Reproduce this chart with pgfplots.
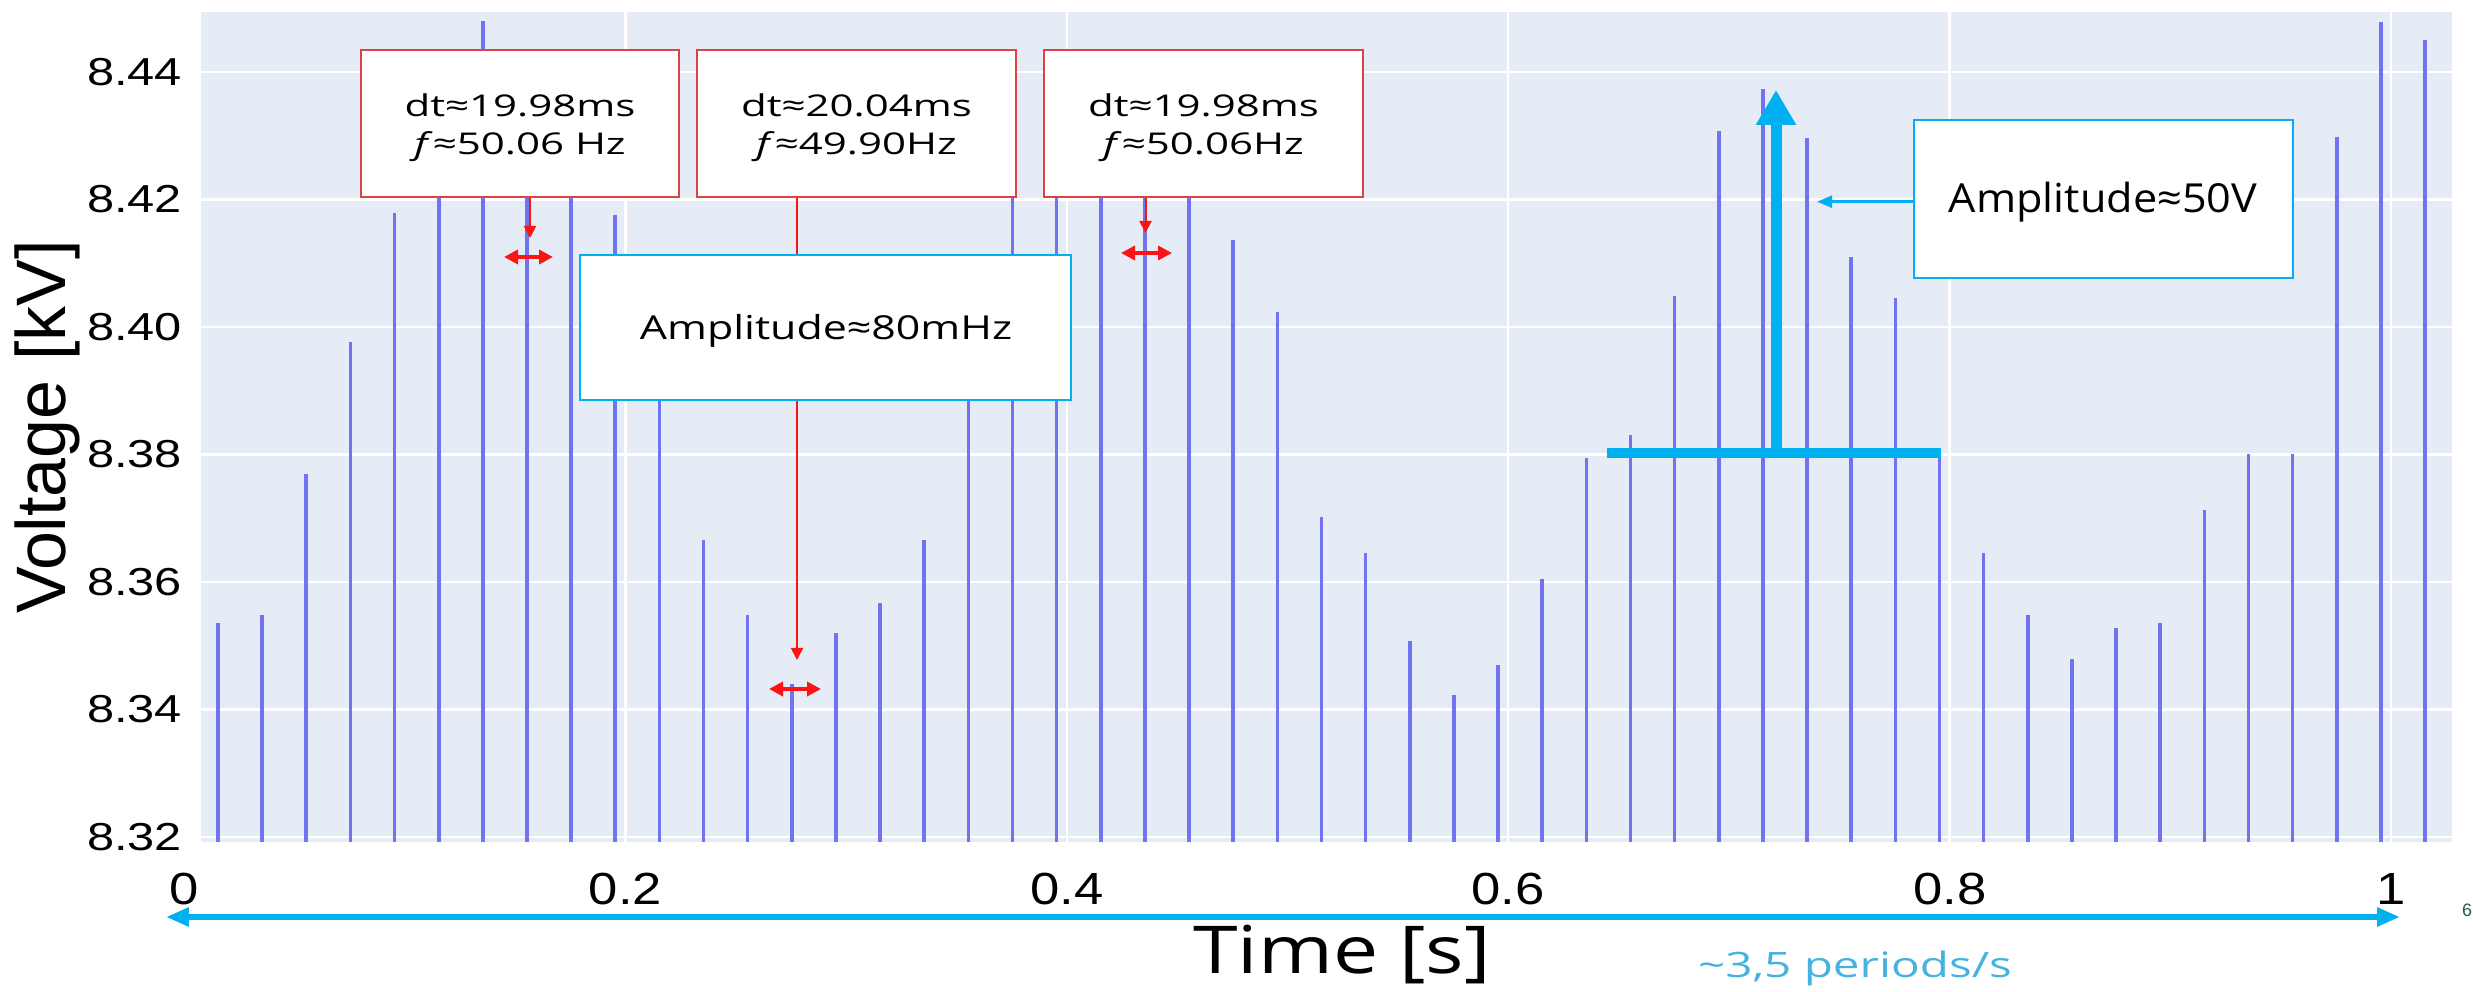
\documentclass[border=0pt]{standalone}
\usepackage{fontspec}
\setmainfont{Liberation Sans}
\newfontfamily\osans{Open Sans}
\usepackage{pgfplots}
\pgfplotsset{compat=1.18}
\usepackage{pgfplotstable}
\usetikzlibrary{arrows.meta}

\definecolor{plotbg}{RGB}{229,236,246}
\definecolor{barblue}{RGB}{112,116,240}
\definecolor{boxred}{RGB}{222,66,66}
\definecolor{arrred}{RGB}{250,20,20}
\definecolor{annocyan}{RGB}{0,176,240}
\definecolor{txtcyan}{RGB}{70,178,226}

% peak voltage of each 50 Hz cycle
\pgfplotstableread{
t v
0.0154 8.3536
0.0354 8.3548
0.0554 8.3769
0.0754 8.3977
0.0954 8.4179
0.1154 8.4320
0.1354 8.4480
0.1554 8.4380
0.1754 8.4300
0.1954 8.4176
0.2154 8.3960
0.2354 8.3665
0.2554 8.3548
0.2754 8.3440
0.2954 8.3520
0.3154 8.3567
0.3354 8.3665
0.3554 8.3980
0.3754 8.4250
0.3954 8.4360
0.4154 8.4410
0.4354 8.4370
0.4554 8.4280
0.4754 8.4137
0.4954 8.4024
0.5154 8.3702
0.5354 8.3645
0.5554 8.3508
0.5754 8.3422
0.5954 8.3470
0.6154 8.3605
0.6354 8.3794
0.6554 8.3830
0.6754 8.4048
0.6954 8.4307
0.7154 8.4373
0.7354 8.4296
0.7554 8.4110
0.7754 8.4046
0.7954 8.3800
0.8154 8.3646
0.8354 8.3548
0.8554 8.3479
0.8754 8.3528
0.8954 8.3536
0.9154 8.3713
0.9354 8.3800
0.9554 8.3800
0.9754 8.4298
0.9954 8.4479
1.0154 8.4450
}\voltdata

\begin{document}
\begin{tikzpicture}
\begin{axis}[
    width=562.75pt, height=207.5pt,
    scale only axis,
    xmin=0.0077, xmax=1.0276,
    ymin=8.3192, ymax=8.4494,
    axis background/.style={fill=plotbg},
    axis line style={draw=none},
    major tick length=0pt,
    xtick={0.2,0.4,0.6,0.8,1},
    ytick={8.32,8.34,8.36,8.38,8.40,8.42,8.44},
    grid=major,
    major grid style={white, line width=0.6pt},
    /pgf/number format/assume math mode=true,
    yticklabel style={font=\fontsize{9.75}{11}\selectfont, anchor=east, inner sep=0pt,
        xshift=-4.5pt, xscale=1.25,
        /pgf/number format/.cd, fixed, fixed zerofill, precision=2},
    xticklabel style={font=\fontsize{11.25}{12}\selectfont, anchor=center, inner sep=0pt,
        yshift=-11.75pt, xscale=1.17},
    ylabel={Voltage [kV]},
    ylabel style={at={(axis description cs:-0.0684,0.5)}, anchor=center,
        font=\fontsize{17.5}{20}\selectfont},
    xlabel={Time [s]},
    xlabel style={at={(axis description cs:0.5069,-0.1590)}, anchor=base,
        font=\osans\fontsize{16.5}{20}\selectfont, xscale=1.22},
]
\addplot[draw=none, mark=none,
    error bars/.cd, y dir=minus, y fixed=0.2, error mark=none,
    error bar style={line width=0.9pt, draw=barblue}]
    table[x=t, y=v] {\voltdata};
\coordinate (SW) at (rel axis cs:0,0);
\end{axis}

% annotations, in pixels of the 2473x992 picture
\begin{scope}[shift={(SW)}, x=0.25pt, y=-0.25pt, shift={(-201,-842)},
    redbox/.style={draw=boxred, line width=0.6pt, fill=white},
    cyanbox/.style={draw=annocyan, line width=0.6pt, fill=white},
    boxtxt/.style={font=\osans\fontsize{7.5}{9.5}\selectfont, align=center, xscale=1.4, inner sep=0pt}]

\node[font=\fontsize{11.25}{12}\selectfont, inner sep=0pt, xscale=1.17] at (184,889) {0};

% red frequency annotations
\draw[arrred, line width=0.5pt, -{Triangle[length=3pt, width=3pt]}] (530,197) -- (530,238);
\draw[arrred, line width=0.5pt, -{Triangle[length=3pt, width=3pt]}] (797,197) -- (797,660);
\draw[arrred, line width=0.5pt, -{Triangle[length=3pt, width=3pt]}] (1145.5,197) -- (1145.5,233);
\draw[arrred, line width=1pt, {Triangle[length=3.5pt, width=3.5pt]}-{Triangle[length=3.5pt, width=3.5pt]}] (504,257) -- (553,257);
\draw[arrred, line width=1pt, {Triangle[length=3.5pt, width=3.5pt]}-{Triangle[length=3.5pt, width=3.5pt]}] (769,689) -- (821,689);
\draw[arrred, line width=1pt, {Triangle[length=3.5pt, width=3.5pt]}-{Triangle[length=3.5pt, width=3.5pt]}] (1121,253) -- (1172,253);

\draw[redbox] (361,50) rectangle (679,197);
\draw[redbox] (697,50) rectangle (1016,197);
\draw[redbox] (1044,50) rectangle (1363,197);
\node[boxtxt] at (520,128) {dt≈19.98ms\\\textit{f}≈50.06 Hz};
\node[boxtxt] at (856.5,128) {dt≈20.04ms\\\textit{f}≈49.90Hz};
\node[boxtxt] at (1203.5,128) {dt≈19.98ms\\\textit{f}≈50.06Hz};

\draw[cyanbox] (580,255) rectangle (1071,400);
\node[font=\osans\fontsize{8.25}{10}\selectfont, xscale=1.3, anchor=base, inner sep=0pt] at (826,340) {Amplitude≈80mHz};

% cyan voltage amplitude annotation
\draw[annocyan, line width=2.5pt] (1607,453) -- (1941,453);
\draw[annocyan, line width=2.75pt, -{Triangle[length=8.75pt, width=9.5pt]}] (1776,453) -- (1776,90);
\draw[annocyan, line width=0.6pt, -{Triangle[length=3.75pt, width=3pt]}] (1914,201.7) -- (1817,201.7);
\draw[cyanbox] (1914,120) rectangle (2293,278);
\node[font=\osans\fontsize{10}{12}\selectfont, xscale=1.08, anchor=base, inner sep=0pt] at (2103,213) {Amplitude≈50V};

% time span arrow
\draw[annocyan, line width=1.6pt, {Triangle[length=5.75pt, width=4.5pt]}-{Triangle[length=5.75pt, width=4.5pt]}] (166,917) -- (2400,917);
\node[font=\osans\fontsize{8.75}{10}\selectfont, xscale=1.36, anchor=base, inner sep=0pt, text=txtcyan] at (1855,978) {\textasciitilde3,5 periods/s};
\node[font=\fontsize{4.5}{5}\selectfont, inner sep=0pt, text={rgb,255:red,40;green,90;blue,80}] at (2467,910) {6};

\pgfresetboundingbox
\path (0,0) rectangle (2473,992);
\end{scope}
\end{tikzpicture}
\end{document}
